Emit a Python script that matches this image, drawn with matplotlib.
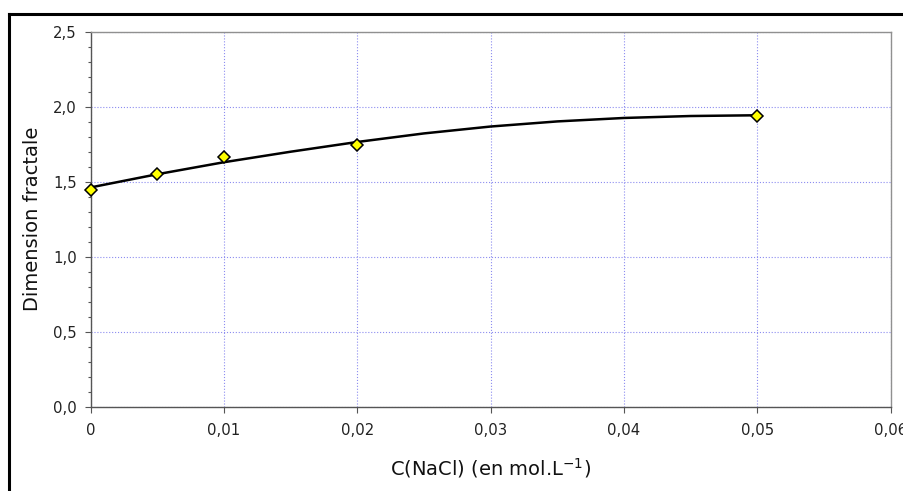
import matplotlib
matplotlib.use("Agg")
import matplotlib.pyplot as plt
from matplotlib.lines import Line2D
from matplotlib.ticker import MultipleLocator

plt.rcParams['font.family'] = ['DejaVu Sans']
plt.rcParams['mathtext.fontset'] = 'dejavusans'
plt.rcParams['mathtext.default'] = 'regular'

# measured points
c_nacl = [0.0, 0.005, 0.01, 0.02, 0.05]
dim_fractale = [1.445, 1.549, 1.665, 1.745, 1.94]

# trend curve
curve_x = [0.0, 0.005, 0.01, 0.015, 0.02, 0.025, 0.03, 0.035, 0.04, 0.045, 0.05]
curve_y = [1.462, 1.55, 1.63, 1.70, 1.765, 1.822, 1.868, 1.902, 1.925, 1.938, 1.943]

x_ticks = [0.0, 0.01, 0.02, 0.03, 0.04, 0.05, 0.06]
x_tick_labels = ['0', '0,01', '0,02', '0,03', '0,04', '0,05', '0,06']
y_ticks = [0.0, 0.5, 1.0, 1.5, 2.0, 2.5]
y_tick_labels = ['0,0', '0,5', '1,0', '1,5', '2,0', '2,5']

fig = plt.figure(figsize=(9.04, 4.91), dpi=100)
ax = fig.add_axes([0.1003, 0.1717, 0.885, 0.7637])

ax.plot(curve_x, curve_y, color='black', lw=1.8, zorder=3)
ax.plot(c_nacl, dim_fractale, linestyle='none', marker='D', ms=6.5,
        mfc='#ffff00', mec='black', mew=1.1, zorder=4, clip_on=False)

ax.set_xlim(0, 0.06)
ax.set_ylim(0, 2.5)
ax.set_xticks(x_ticks)
ax.set_xticklabels(x_tick_labels)
ax.set_yticks(y_ticks)
ax.set_yticklabels(y_tick_labels)
ax.yaxis.set_minor_locator(MultipleLocator(0.1))

ax.tick_params(axis='both', which='major', direction='out', length=4,
               width=0.8, color='#555555', labelsize=10.7, labelcolor='#222222')
ax.tick_params(axis='x', pad=8)
ax.tick_params(axis='y', pad=6)
ax.tick_params(axis='y', which='minor', direction='out', length=2.5,
               width=0.8, color='#555555')

ax.grid(True, which='major', linestyle=':', color='#8c8cf0', lw=0.8)
for side in ['left', 'bottom']:
    ax.spines[side].set_color('#555555')
    ax.spines[side].set_linewidth(1.0)
for side in ['top', 'right']:
    ax.spines[side].set_color('#909090')
    ax.spines[side].set_linewidth(1.0)

ax.set_xlabel(r'C(NaCl) (en mol.L$^{-1}$)', fontsize=14, labelpad=13, color='#111111')
ax.set_ylabel('Dimension fractale', fontsize=14, labelpad=8, color='#111111')

# frame around the chart area (only top and left visible)
fig.add_artist(Line2D([0.0095, 0.0095], [-0.05, 1 - 14 / 491], color='black', lw=2.2,
                      transform=fig.transFigure))
fig.add_artist(Line2D([0.0095, 1.05], [1 - 14 / 491, 1 - 14 / 491], color='black', lw=2.2,
                      transform=fig.transFigure))

fig.savefig('out.png', dpi=100)
